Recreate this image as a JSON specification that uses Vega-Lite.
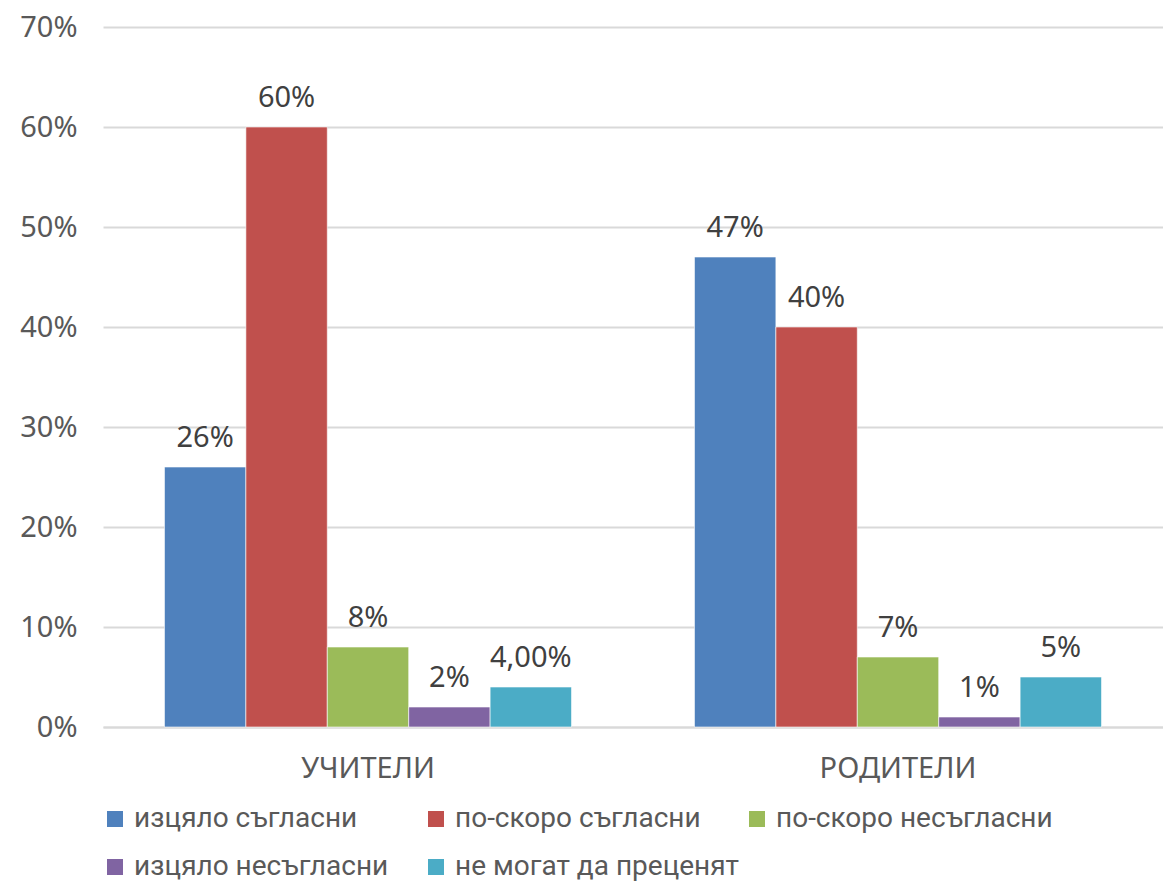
{
  "$schema": "https://vega.github.io/schema/vega-lite/v6.json",
  "width": 1060,
  "height": 700,
  "autosize": {"type": "none"},
  "padding": {"left": 103, "top": 27, "right": 0, "bottom": 158},
  "background": "white",
  "config": {
    "view": {"stroke": null},
    "font": "Noto Sans",
    "axis": {"labelColor": "#595959", "labelFont": "Noto Sans", "labelFontSize": 29, "ticks": false, "title": null, "labelOverlap": false}
  },
  "data": {
    "values": [
      {"group": "УЧИТЕЛИ", "answer": "изцяло съгласни", "value": 0.26, "label": "26%"},
      {"group": "УЧИТЕЛИ", "answer": "по-скоро съгласни", "value": 0.60, "label": "60%"},
      {"group": "УЧИТЕЛИ", "answer": "по-скоро несъгласни", "value": 0.08, "label": "8%"},
      {"group": "УЧИТЕЛИ", "answer": "изцяло несъгласни", "value": 0.02, "label": "2%"},
      {"group": "УЧИТЕЛИ", "answer": "не могат да преценят", "value": 0.04, "label": "4,00%"},
      {"group": "РОДИТЕЛИ", "answer": "изцяло съгласни", "value": 0.47, "label": "47%"},
      {"group": "РОДИТЕЛИ", "answer": "по-скоро съгласни", "value": 0.40, "label": "40%"},
      {"group": "РОДИТЕЛИ", "answer": "по-скоро несъгласни", "value": 0.07, "label": "7%"},
      {"group": "РОДИТЕЛИ", "answer": "изцяло несъгласни", "value": 0.01, "label": "1%"},
      {"group": "РОДИТЕЛИ", "answer": "не могат да преценят", "value": 0.05, "label": "5%"}
    ]
  },
  "encoding": {
    "x": {
      "field": "group", "type": "nominal", "sort": ["УЧИТЕЛИ", "РОДИТЕЛИ"],
      "scale": {"paddingInner": 0, "paddingOuter": 0},
      "axis": {"labelAngle": 0, "labelPadding": 27, "domain": true, "domainColor": "#D9D9D9", "domainWidth": 2, "labelBaseline": "top"}
    },
    "xOffset": {
      "field": "answer", "type": "nominal",
      "sort": ["изцяло съгласни", "по-скоро съгласни", "по-скоро несъгласни", "изцяло несъгласни", "не могат да преценят"],
      "scale": {"paddingInner": 0, "paddingOuter": 0.755}
    },
    "y": {
      "field": "value", "type": "quantitative",
      "scale": {"domain": [0, 0.7], "nice": false},
      "axis": {"format": ".0%", "values": [0, 0.1, 0.2, 0.3, 0.4, 0.5, 0.6, 0.7], "domain": false, "grid": true, "gridColor": "#D9D9D9", "gridWidth": 2, "labelPadding": 26}
    }
  },
  "layer": [
    {
      "mark": {"type": "bar", "stroke": "white", "strokeWidth": 0.6},
      "encoding": {
        "color": {
          "field": "answer", "type": "nominal",
          "sort": ["изцяло съгласни", "по-скоро съгласни", "по-скоро несъгласни", "изцяло несъгласни", "не могат да преценят"],
          "scale": {
            "domain": ["изцяло съгласни", "по-скоро съгласни", "по-скоро несъгласни", "изцяло несъгласни", "не могат да преценят"],
            "range": ["#4F81BD", "#C0504D", "#9BBB59", "#8064A2", "#4BACC6"]
          },
          "legend": {
            "orient": "none", "legendX": -2, "legendY": 778,
            "direction": "horizontal", "columns": 3, "gridAlign": "all",
            "title": null, "symbolType": "square", "symbolSize": 256, "symbolStrokeWidth": 0,
            "labelFont": "Roboto", "labelFontSize": 28, "labelColor": "#595959",
            "labelOffset": 5, "columnPadding": 3, "rowPadding": 20, "labelLimit": 400
          }
        }
      }
    },
    {
      "mark": {"type": "text", "baseline": "bottom", "dy": -14, "fontSize": 29, "color": "#404040", "font": "Noto Sans"},
      "encoding": {"text": {"field": "label"}}
    }
  ]
}
